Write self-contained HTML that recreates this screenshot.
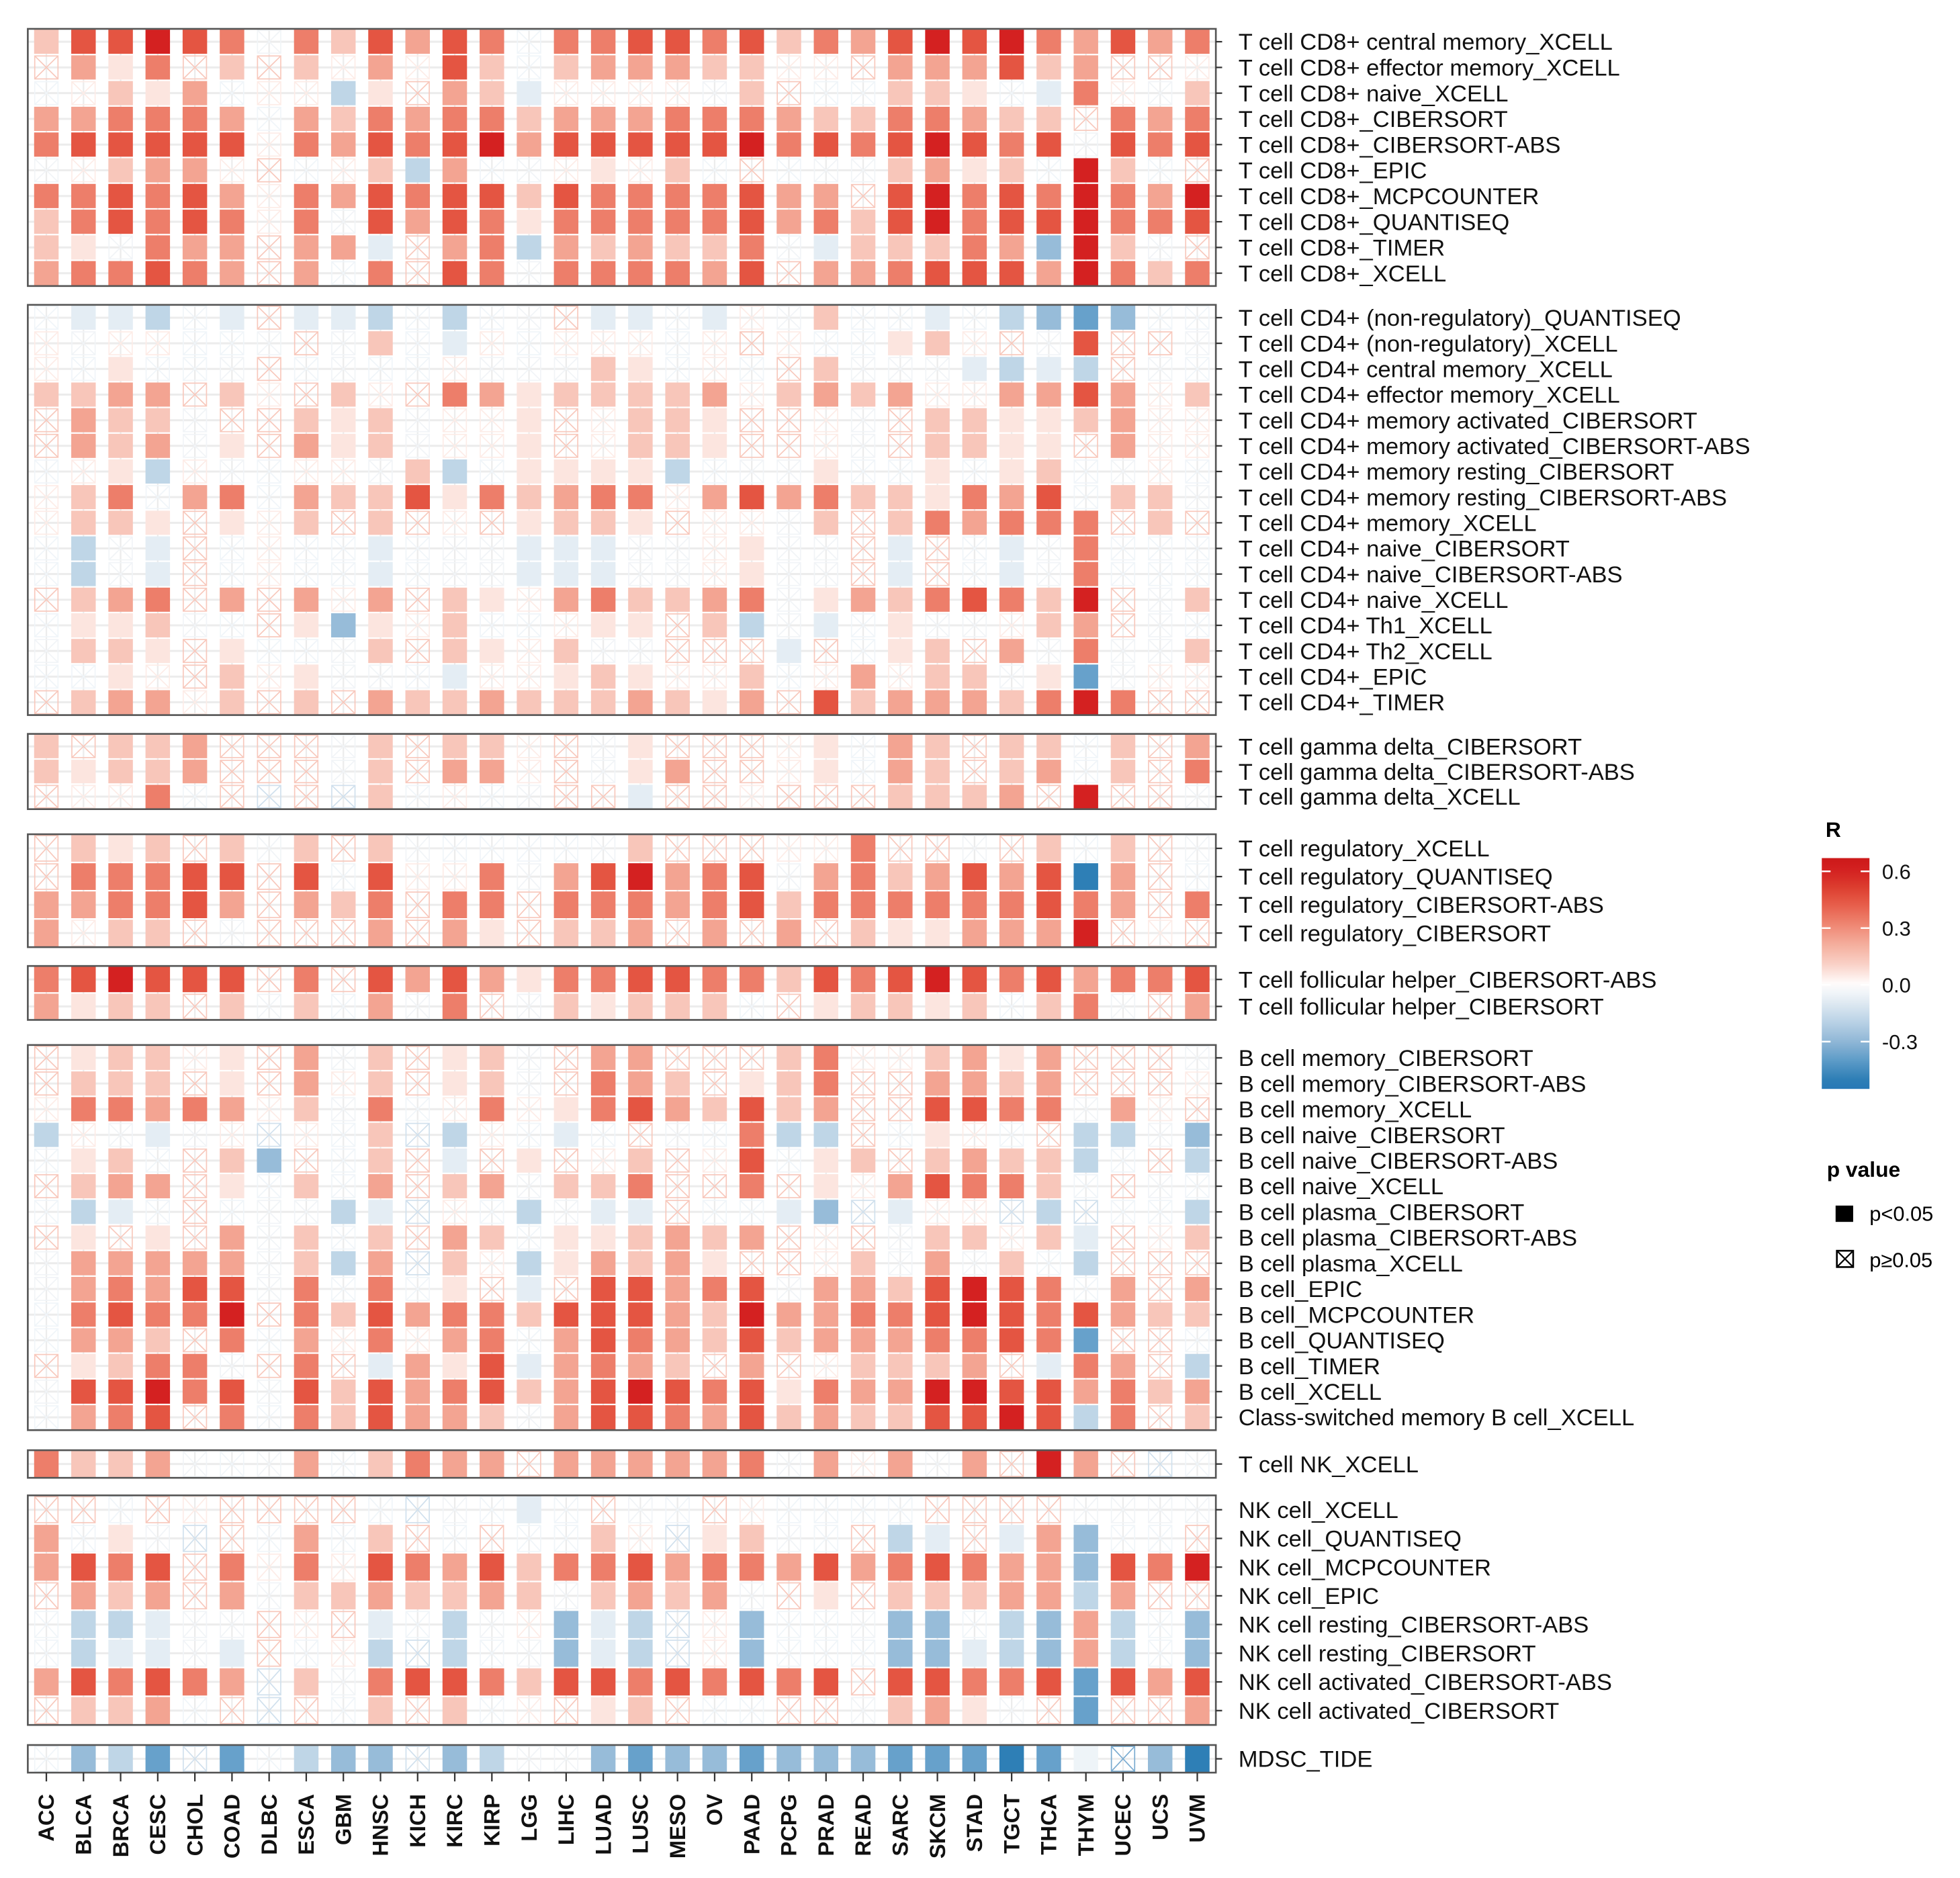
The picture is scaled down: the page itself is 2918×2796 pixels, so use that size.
<!DOCTYPE html>
<html><head><meta charset="utf-8"><style>
html,body{margin:0;padding:0;background:#fff;}
svg{display:block;font-family:"Liberation Sans",Arial,sans-serif;}
</style></head><body>
<svg id="chart" xmlns="http://www.w3.org/2000/svg" width="2918" height="2796" viewBox="0 0 1562 1497">
<g id="grid"></g>
<g id="cells"></g>
<g id="frames"></g>
<g id="ylabels"></g>
<g id="xlabels"></g>
<g id="legend">
  <defs><linearGradient id="rgrad" x1="0" y1="0" x2="0" y2="1"></linearGradient></defs>
  <text x="1455" y="667" font-size="17" font-weight="bold">R</text>
  <rect id="cbar" x="1452" y="684" width="38" height="184" fill="url(#rgrad)"/>
  <g id="cbticks"></g>
  <text x="1456" y="938" font-size="17" font-weight="bold">p value</text>
  <rect x="1463" y="961" width="14" height="13" fill="#000"/>
  <text x="1490" y="973" font-size="16.5">p&lt;0.05</text>
  <g>
    <rect x="1464" y="997" width="13" height="13" fill="none" stroke="#000" stroke-width="1.4"/>
    <line x1="1464" y1="997" x2="1477" y2="1010" stroke="#000" stroke-width="1.2"/>
    <line x1="1477" y1="997" x2="1464" y2="1010" stroke="#000" stroke-width="1.2"/>
  </g>
  <text x="1490" y="1010" font-size="16.5">p≥0.05</text>
</g>
</svg>
<script>
const columns=["ACC","BLCA","BRCA","CESC","CHOL","COAD","DLBC","ESCA","GBM","HNSC","KICH","KIRC","KIRP","LGG","LIHC","LUAD","LUSC","MESO","OV","PAAD","PCPG","PRAD","READ","SARC","SKCM","STAD","TGCT","THCA","THYM","UCEC","UCS","UVM"];
const legendTicks=[0.6,0.3,0.0,-0.3];

const p1Labels=["T cell CD8+ central memory_XCELL","T cell CD8+ effector memory_XCELL","T cell CD8+ naive_XCELL","T cell CD8+_CIBERSORT","T cell CD8+_CIBERSORT-ABS","T cell CD8+_EPIC","T cell CD8+_MCPCOUNTER","T cell CD8+_QUANTISEQ","T cell CD8+_TIMER","T cell CD8+_XCELL"];
const p1R=[
[14,45,45,60,45,34,0,34,14,45,24,45,34,-5,34,34,45,45,34,45,14,34,24,45,60,45,60,34,24,45,24,34],
[15,24,6,34,15,14,15,14,5,24,5,45,14,-5,14,24,24,24,14,14,5,5,15,24,24,24,45,14,24,15,15,5],
[-5,5,14,6,24,-5,5,5,-18,6,15,24,14,-8,5,5,5,5,0,14,15,-5,-5,14,14,6,-5,-8,34,5,0,14],
[24,24,34,34,34,24,-5,24,14,34,24,34,34,14,24,24,24,34,34,34,24,14,14,34,34,24,14,14,15,34,24,34],
[34,45,45,45,45,45,5,34,24,45,34,45,60,24,45,45,45,45,45,60,34,45,34,45,60,45,34,45,0,45,34,45],
[0,5,14,24,24,5,15,-5,5,14,-18,24,-5,0,5,6,5,14,-5,15,-5,0,0,14,24,6,14,-5,60,14,-5,15],
[34,34,45,34,45,24,5,34,24,45,34,45,45,14,45,34,34,34,34,45,24,24,15,45,60,34,45,34,60,34,24,60],
[14,34,45,34,45,34,5,34,0,45,24,45,34,6,34,34,34,34,34,45,24,34,14,45,60,34,45,45,60,34,34,45],
[14,6,0,34,24,24,15,24,24,-8,15,24,34,-18,24,14,24,14,14,34,0,-8,14,14,14,34,24,-28,60,14,0,15],
[24,34,34,45,34,24,15,24,-5,34,15,45,34,0,34,34,34,34,24,45,15,24,24,34,45,45,45,24,60,34,14,34]];
const p1Sig=["11111101111110111111111111111111","01110101010110111111000111111000","00111000110111000001000111011001","11111101111111111111111111110111","11111101111111111111111111110111","00111000011100010100000111101100","11111101111111111111110111111111","11111101011111111111111111111111","11011101110111111111011111111100","11111101010110111111011111111111"];

const p2Labels=["T cell CD4+ (non-regulatory)_QUANTISEQ","T cell CD4+ (non-regulatory)_XCELL","T cell CD4+ central memory_XCELL","T cell CD4+ effector memory_XCELL","T cell CD4+ memory activated_CIBERSORT","T cell CD4+ memory activated_CIBERSORT-ABS","T cell CD4+ memory resting_CIBERSORT","T cell CD4+ memory resting_CIBERSORT-ABS","T cell CD4+ memory_XCELL","T cell CD4+ naive_CIBERSORT","T cell CD4+ naive_CIBERSORT-ABS","T cell CD4+ naive_XCELL","T cell CD4+ Th1_XCELL","T cell CD4+ Th2_XCELL","T cell CD4+_EPIC","T cell CD4+_TIMER"];
const p2R=[
[-5,-8,-8,-18,-5,-8,15,-8,-8,-18,-5,-18,-5,0,15,-8,-8,-5,-8,5,0,14,-5,-5,-8,-5,-18,-28,-38,-28,-5,-5],
[5,0,5,5,-5,-5,0,15,0,14,-5,-8,5,-5,5,5,5,-5,5,15,5,-5,-5,6,14,5,15,0,45,15,15,0],
[5,-5,6,-5,-5,0,15,-5,0,-5,-5,5,0,0,0,14,6,-5,5,-5,15,14,0,0,0,-8,-18,-8,-18,15,0,-5],
[14,14,24,24,15,14,5,15,14,5,15,34,24,6,14,14,14,14,24,5,14,24,14,24,5,5,24,24,45,24,5,14],
[15,24,14,14,0,15,15,14,6,14,0,5,5,6,15,5,14,14,6,15,15,5,0,15,14,14,6,6,14,24,5,5],
[15,24,14,24,0,6,15,24,6,14,0,5,5,6,15,5,14,14,6,15,15,5,0,15,14,14,6,6,15,24,5,5],
[-5,5,6,-18,5,0,-5,5,5,0,14,-18,-5,6,6,6,6,-18,-5,0,0,6,-5,-5,6,-5,6,14,-5,0,5,-5],
[5,14,34,-5,24,34,-5,24,14,14,45,6,34,14,24,34,34,5,24,45,24,34,14,14,6,34,24,45,-5,14,14,0],
[5,14,14,6,15,6,5,14,15,14,15,5,15,6,14,14,6,15,5,5,0,14,15,14,34,24,34,34,34,15,14,15],
[-5,-18,0,-8,15,-5,5,-5,-5,-8,-5,0,0,-8,-8,-8,0,0,5,6,0,0,15,-8,15,-5,-8,0,34,-5,-5,-5],
[-5,-18,0,-8,15,-5,5,-5,-5,-8,-5,0,0,-8,-8,-8,0,0,5,6,0,0,15,-8,15,-5,-8,0,34,-5,-5,-5],
[15,14,24,34,15,24,15,24,5,24,15,14,6,5,24,34,14,14,24,34,0,6,24,14,34,45,34,14,60,15,0,14],
[-5,6,6,14,0,-5,15,6,-28,6,5,14,-5,-5,5,6,6,15,14,-18,0,-8,-5,6,0,0,5,14,24,15,0,-5],
[0,14,14,6,15,6,-5,-5,0,14,15,14,6,5,14,0,0,15,15,15,-8,15,-5,6,14,15,24,0,34,0,0,14],
[-5,-5,6,5,15,14,5,6,0,0,-5,-8,5,5,6,14,6,5,5,14,-5,5,24,5,14,14,0,6,-38,0,5,5],
[15,14,24,24,5,14,15,14,15,24,14,14,24,14,14,14,24,14,6,24,15,45,14,24,24,24,14,34,60,34,15,15]];
const p2Sig=["01110101110100011010010010111100","00000000010100000000000110001000","00100000000000011000010001111000","11110100100111111110111100111101","01110001110001001110000011111100","01110101110001001110000011110100","00110000001101111100010010110000","01101101111111111011111111110110","01110101010001111000010111111010","01010000010001110001000100101000","01010000010001110001000100101000","01110101010110111111011111111001","01110001110100011011010100011000","01110100010110100000100110101001","00100101000100111001001011011000","01110101011111111111011111111100"];

const p3Labels=["T cell gamma delta_CIBERSORT","T cell gamma delta_CIBERSORT-ABS","T cell gamma delta_XCELL"];
const p3R=[
[14,15,14,14,24,15,15,15,0,14,15,14,14,5,15,0,6,15,15,15,5,6,-5,24,14,15,14,14,-5,14,15,24],
[14,6,14,14,24,15,15,15,0,14,15,24,24,5,15,0,6,24,15,15,5,6,-5,24,14,15,14,24,-5,14,15,34],
[15,5,5,34,-5,15,-15,15,-15,14,-5,5,-5,0,15,15,-8,15,15,5,15,15,15,14,14,14,24,15,60,15,15,0]];
const p3Sig=["10111000010110001000010110110101","11111000010110001100010110110101","00010000010000001000000111101000"];

const p4Labels=["T cell regulatory_XCELL","T cell regulatory_QUANTISEQ","T cell regulatory_CIBERSORT-ABS","T cell regulatory_CIBERSORT"];
const p4R=[
[15,14,6,14,15,14,0,14,15,14,0,-5,-5,-5,-5,0,14,15,15,15,5,5,34,15,15,0,15,14,-5,14,15,0],
[15,34,34,34,45,45,15,45,-5,45,5,5,34,0,24,45,60,24,34,45,0,24,34,14,24,45,24,45,-50,24,15,-5],
[24,24,34,34,45,24,15,24,14,34,15,34,34,15,34,34,34,24,34,45,14,34,34,34,34,34,34,45,34,24,15,34],
[24,5,14,14,15,0,15,15,15,24,15,24,6,15,14,14,24,15,24,15,24,15,14,6,6,24,24,24,60,15,5,15]];
const p4Sig=["01110101010000001000001000010100","01111101010010111111011111111100","11111101110110111111111111111101","10110000010110111010101111111000"];

const p5Labels=["T cell follicular helper_CIBERSORT-ABS","T cell follicular helper_CIBERSORT"];
const p5R=[
[34,45,60,45,45,45,15,34,15,45,24,45,24,6,34,34,45,45,34,34,14,45,34,45,60,45,34,45,24,34,34,45],
[24,6,14,14,15,14,0,14,-5,24,0,34,15,0,14,6,14,14,14,-5,15,6,14,14,6,14,-5,14,34,0,15,24]];
const p5Sig=["11111101011111111111111111111111","11110101010100111110011111011001"];

const p6Labels=["B cell memory_CIBERSORT","B cell memory_CIBERSORT-ABS","B cell memory_XCELL","B cell naive_CIBERSORT","B cell naive_CIBERSORT-ABS","B cell naive_XCELL","B cell plasma_CIBERSORT","B cell plasma_CIBERSORT-ABS","B cell plasma_XCELL","B cell_EPIC","B cell_MCPCOUNTER","B cell_QUANTISEQ","B cell_TIMER","B cell_XCELL","Class-switched memory B cell_XCELL"];
const p6R=[
[15,6,14,14,5,6,15,24,0,14,15,6,14,0,15,24,24,15,15,15,14,34,5,5,14,24,6,24,15,15,15,0],
[15,14,14,14,15,6,15,24,5,14,15,6,14,0,15,34,24,14,15,6,14,34,15,15,24,24,14,24,15,15,15,5],
[5,34,34,24,34,24,5,14,0,34,-5,5,34,5,6,34,45,24,14,45,14,24,15,15,45,45,34,34,0,24,5,15],
[-18,5,0,-8,0,5,-15,5,-5,14,-15,-18,5,-5,-8,-5,15,0,-5,34,-18,-18,15,-5,6,5,-5,15,-18,-18,0,-28],
[-5,6,14,-5,15,14,-28,15,-5,14,15,-8,15,6,15,5,14,15,5,45,-5,6,14,15,14,24,14,14,-18,-5,15,-18],
[15,14,24,24,15,6,-5,14,-5,24,15,14,24,0,14,14,34,15,15,34,15,6,5,24,45,34,34,14,-5,15,0,-5],
[-5,-18,-8,-5,15,-5,0,0,-18,-8,-15,5,-5,-18,0,-8,-8,15,-5,-5,-8,-28,-15,-8,5,5,-15,-18,-15,-5,-5,-18],
[15,6,15,6,15,24,0,14,-5,14,15,24,14,-5,6,6,14,24,14,24,15,5,15,0,14,14,5,14,-8,15,5,14],
[0,24,24,24,24,24,0,14,-18,24,-15,14,5,-18,6,24,14,24,6,15,15,5,14,0,24,0,14,-5,-18,15,15,15],
[0,24,34,24,45,45,0,34,-5,34,-5,6,15,-8,15,45,45,24,34,45,0,24,24,14,45,60,45,34,-5,24,15,24],
[-5,34,45,34,34,60,15,34,14,45,24,34,34,14,45,45,45,24,14,60,24,24,34,34,45,60,45,34,45,24,14,14],
[-5,24,24,14,15,34,-5,24,5,34,5,24,34,-5,24,45,34,24,14,45,14,24,24,24,34,34,45,34,-38,15,15,-5],
[15,6,14,34,34,0,15,34,15,-8,24,6,45,-8,24,34,24,14,15,24,15,5,14,14,14,24,15,-8,34,24,15,-18],
[0,45,45,60,34,45,0,45,14,45,24,34,45,14,24,45,60,45,34,45,6,34,24,24,60,60,45,45,24,34,14,24],
[-5,24,34,45,15,34,-5,34,14,45,24,24,14,0,24,45,45,34,24,45,14,24,14,14,45,45,60,45,-18,34,15,14]];
const p6Sig=["01110101010110011000110011110000","01110101010110011101110011110000","01111101010010111111110011110100","10010000010100100001110010001101","01100110010101001001011011111001","01110101010110111001010111110000","01100000110001011000110100010001","01010101010110111111000011011001","01111101110101111110001010101000","01111101010101011111011111110101","01111101111111111111111111111111","01110101010110111111111111111000","01111001011111111101001111011101","01111101111111111111111111111111","01110101111110111111111111111101"];

const p7Labels=["T cell NK_XCELL"];
const p7R=[[34,14,14,24,0,-5,0,24,-5,14,34,24,24,15,24,24,24,24,24,34,0,24,5,24,0,24,15,60,24,15,-15,-5]];
const p7Sig=["11110001011110111111010101011000"];

const p8Labels=["NK cell_XCELL","NK cell_QUANTISEQ","NK cell_MCPCOUNTER","NK cell_EPIC","NK cell resting_CIBERSORT-ABS","NK cell resting_CIBERSORT","NK cell activated_CIBERSORT-ABS","NK cell activated_CIBERSORT"];
const p8R=[
[15,15,-5,15,5,15,15,15,15,-5,-15,0,-5,-8,-5,15,0,-5,15,5,-5,-5,-5,-5,15,15,15,15,0,0,0,0],
[24,-5,6,0,-15,15,-5,24,-5,14,15,-5,15,-5,-5,14,5,-15,6,14,0,-5,15,-18,-8,15,-8,24,-28,-5,-5,15],
[24,45,34,45,15,34,5,34,5,45,34,24,45,14,34,34,45,24,34,34,24,45,24,34,45,34,24,24,-28,45,34,60],
[15,24,14,24,15,24,0,14,14,24,14,14,24,14,0,14,24,14,24,0,15,6,15,14,14,14,24,24,-18,24,15,15],
[-5,-18,-18,-8,0,0,15,5,15,-8,-5,-18,0,5,-28,-8,-18,-15,5,-28,-5,-5,0,-28,-28,-5,-18,-28,24,-18,-5,-28],
[-5,-18,-8,-8,0,-8,15,-5,5,-18,-15,-18,-5,0,-28,-8,-18,-15,5,-28,-5,-5,-5,-28,-28,-8,-18,-28,24,-18,-5,-28],
[24,45,34,45,34,24,-15,14,0,34,45,45,34,14,45,45,34,45,34,45,34,45,15,45,45,34,34,45,-38,45,24,45],
[15,14,14,24,-5,15,-15,15,-5,14,15,14,-5,5,15,6,14,15,-5,-5,15,15,0,14,24,6,0,15,-38,15,15,24]];
const p8Sig=["00000000000001000000000000000000","10100001010000010011000110111000","11110101011111111111111111111111","01110101111111011110010111111100","01110000010100111001000110111101","01110100010100111001000111111101","11111101011111111111110111111111","01110000010100011000000111001001"];

const p9Labels=["MDSC_TIDE"];
const p9R=[[-5,-28,-18,-38,-15,-38,-5,-18,-28,-28,-15,-28,-18,0,0,-28,-38,-28,-28,-38,-28,-28,-28,-38,-38,-38,-50,-38,-5,-38,-28,-50]];
const p9Sig=["01110101110110011111111111111011"];

const panels=[
 {top:23,bottom:228,labels:p1Labels,R:p1R,sig:p1Sig},
 {top:243,bottom:570,labels:p2Labels,R:p2R,sig:p2Sig},
 {top:585,bottom:645,labels:p3Labels,R:p3R,sig:p3Sig},
 {top:665,bottom:755,labels:p4Labels,R:p4R,sig:p4Sig},
 {top:770,bottom:813,labels:p5Labels,R:p5R,sig:p5Sig},
 {top:833,bottom:1140,labels:p6Labels,R:p6R,sig:p6Sig},
 {top:1156,bottom:1178,labels:p7Labels,R:p7R,sig:p7Sig},
 {top:1192,bottom:1375,labels:p8Labels,R:p8R,sig:p8Sig},
 {top:1391,bottom:1413,labels:p9Labels,R:p9R,sig:p9Sig}];

const NS="http://www.w3.org/2000/svg";
const X0=22, X1=969, pitch=(X1-X0)/columns.length;
function xPos(i){return X0+(i+0.5)*pitch;}
function rowH(p){return (p.bottom-p.top)/p.labels.length;}
function yPos(p,j){return p.top+(j+0.5)*rowH(p);}
function val(h){return h/100;}
const stops=[[-0.6,[33,113,181]],[-0.5,[46,127,182]],[-0.4,[93,155,200]],[-0.3,[143,183,214]],[-0.2,[184,209,229]],[-0.1,[221,232,241]],[0,[255,255,255]],[0.1,[250,212,202]],[0.2,[245,178,162]],[0.3,[240,142,122]],[0.4,[233,102,82]],[0.5,[222,67,50]],[0.6,[212,33,33]],[0.7,[200,21,21]]];
function color(v){
  if(v<=stops[0][0]) return 'rgb('+stops[0][1].join(',')+')';
  for(let k=0;k<stops.length-1;k++){
    const a=stops[k],b=stops[k+1];
    if(v>=a[0]&&v<=b[0]){const t=(v-a[0])/(b[0]-a[0]);
      return 'rgb('+[0,1,2].map(c=>Math.round(a[1][c]+(b[1][c]-a[1][c])*t)).join(',')+')';}
  }
  return 'rgb('+stops[stops.length-1][1].join(',')+')';
}
function mk(tag,attrs,parent){const e=document.createElementNS(NS,tag);for(const k in attrs)e.setAttribute(k,attrs[k]);parent.appendChild(e);return e;}

const gGrid=document.getElementById('grid'),gCells=document.getElementById('cells'),gFrames=document.getElementById('frames'),gY=document.getElementById('ylabels'),gX=document.getElementById('xlabels');
const cw=pitch*0.66;
panels.forEach((p,pi)=>{
  const h=rowH(p);
  for(let i=0;i<columns.length;i++){
    const gl=mk('line',{x1:xPos(i),x2:xPos(i),y1:p.top,y2:p.bottom,stroke:'#ececec','stroke-width':1.2},gGrid);
    
    
  }
  p.labels.forEach((lab,j)=>{
    const y=yPos(p,j);
    const gl=mk('line',{x1:X0,x2:X1,y1:y,y2:y,stroke:'#ececec','stroke-width':1.6},gGrid);
    
    
    for(let i=0;i<columns.length;i++){
      const v=val(p.R[j][i]);
      const sig=p.sig[j][i]==='1';
      const x=xPos(i)-cw/2, yy=y-h/2+0.6, hh=h-1.2;
      if(sig){
        const r=mk('rect',{x:x,y:yy,width:cw,height:hh,fill:color(v)},gCells);
        
        
      } else {
        const sc=v===0?'#f1f4f7':color(v*0.9);
        const g=mk('g',{stroke:sc,'stroke-width':0.9,fill:'none'},gCells);
        
        
        mk('rect',{x:x+0.5,y:yy+0.5,width:cw-1,height:hh-1},g);
        mk('line',{x1:x+0.5,y1:yy+0.5,x2:x+cw-0.5,y2:yy+hh-0.5},g);
        mk('line',{x1:x+cw-0.5,y1:yy+0.5,x2:x+0.5,y2:yy+hh-0.5},g);
      }
    }
    const tk=mk('line',{x1:X1,x2:X1+5,y1:y,y2:y,stroke:'#333','stroke-width':1.2},gY);
    
    
    const t=mk('text',{x:987,y:y+6.5,'font-size':18.5,fill:'#111'},gY);
    t.textContent=lab;
    
    
  });
  const fr=mk('rect',{x:X0,y:p.top,width:X1-X0,height:p.bottom-p.top,fill:'none',stroke:'#555','stroke-width':1.4},gFrames);
  
  
});
columns.forEach((c,i)=>{
  const x=xPos(i);
  const tk=mk('line',{x1:x,x2:x,y1:1413,y2:1420,stroke:'#333','stroke-width':1.2},gX);
  
  
  const t=mk('text',{x:0,y:0,'font-size':17.5,'font-weight':'bold','text-anchor':'end',transform:'translate('+(x+6)+',1430) rotate(-90)',fill:'#111'},gX);
  t.textContent=c;
  
  
});
const grad=document.getElementById('rgrad');
const vTop=0.67,vBot=-0.55;
for(let k=0;k<=24;k++){const v=vTop+(vBot-vTop)*k/24;mk('stop',{offset:(k/24),'stop-color':color(v)},grad);}
const gT=document.getElementById('cbticks');
function legY(v){return 684+(vTop-v)/(vTop-vBot)*184;}
legendTicks.forEach(v=>{
  const y=legY(v);
  const a=mk('line',{x1:1452,x2:1459,y1:y,y2:y,stroke:'#fff','stroke-width':1.3},gT);
  
  
  const b=mk('line',{x1:1483,x2:1490,y1:y,y2:y,stroke:'#fff','stroke-width':1.3},gT);
  
  
  const t=mk('text',{x:1500,y:y+6,'font-size':16.5,fill:'#111'},gT);
  t.textContent=v.toFixed(1);
  
  
});
</script>
</body></html>
